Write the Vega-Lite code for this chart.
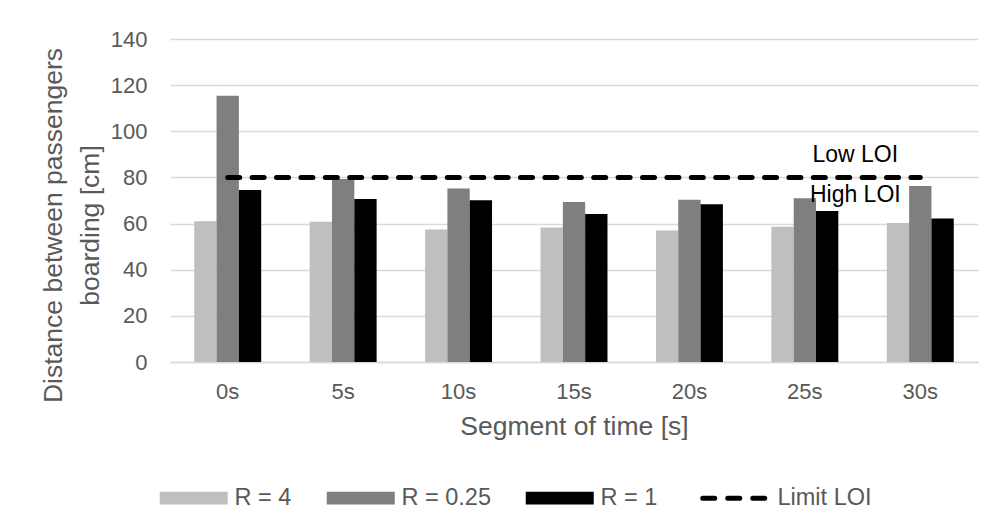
{
  "$schema": "https://vega.github.io/schema/vega-lite/v6.json",
  "autosize": "none",
  "width": 808,
  "height": 323,
  "padding": {"left": 170, "top": 39, "right": 17, "bottom": 168},
  "background": "#ffffff",
  "config": {
    "font": "Liberation Sans",
    "view": {"stroke": null},
    "axis": {"labelColor": "#595959", "titleColor": "#595959", "titleFontWeight": "normal", "labelFont": "Liberation Sans", "titleFont": "Liberation Sans"}
  },
  "datasets": {
    "bars": [
      {"time": "0s", "series": "R = 4", "value": 61.0},
      {"time": "0s", "series": "R = 0.25", "value": 115.4},
      {"time": "0s", "series": "R = 1", "value": 74.6},
      {"time": "5s", "series": "R = 4", "value": 60.8},
      {"time": "5s", "series": "R = 0.25", "value": 79.3},
      {"time": "5s", "series": "R = 1", "value": 70.6},
      {"time": "10s", "series": "R = 4", "value": 57.4},
      {"time": "10s", "series": "R = 0.25", "value": 75.2},
      {"time": "10s", "series": "R = 1", "value": 70.1},
      {"time": "15s", "series": "R = 4", "value": 58.3},
      {"time": "15s", "series": "R = 0.25", "value": 69.3},
      {"time": "15s", "series": "R = 1", "value": 64.1},
      {"time": "20s", "series": "R = 4", "value": 57.0},
      {"time": "20s", "series": "R = 0.25", "value": 70.3},
      {"time": "20s", "series": "R = 1", "value": 68.4},
      {"time": "25s", "series": "R = 4", "value": 58.6},
      {"time": "25s", "series": "R = 0.25", "value": 71.0},
      {"time": "25s", "series": "R = 1", "value": 65.5},
      {"time": "30s", "series": "R = 4", "value": 60.3},
      {"time": "30s", "series": "R = 0.25", "value": 76.3},
      {"time": "30s", "series": "R = 1", "value": 62.2}
    ],
    "limit": [
      {"time": "0s", "series": "Limit LOI", "value": 80},
      {"time": "5s", "series": "Limit LOI", "value": 80},
      {"time": "10s", "series": "Limit LOI", "value": 80},
      {"time": "15s", "series": "Limit LOI", "value": 80},
      {"time": "20s", "series": "Limit LOI", "value": 80},
      {"time": "25s", "series": "Limit LOI", "value": 80},
      {"time": "30s", "series": "Limit LOI", "value": 80}
    ],
    "notes": [
      {"time": "30s", "value": 89.7, "label": "Low LOI"},
      {"time": "30s", "value": 72.3, "label": "High LOI"}
    ]
  },
  "encoding": {
    "x": {
      "field": "time", "type": "nominal",
      "sort": ["0s", "5s", "10s", "15s", "20s", "25s", "30s"],
      "scale": {"paddingInner": 0.42, "paddingOuter": 0.21},
      "axis": {
        "title": "Segment of time [s]", "titleFontSize": 26.5, "titlePadding": 11,
        "labelAngle": 0, "labelFontSize": 22, "labelPadding": 19,
        "ticks": false, "tickSize": 0, "grid": false,
        "domainColor": "#D9D9D9", "domainWidth": 1.5
      }
    },
    "y": {
      "field": "value", "type": "quantitative",
      "scale": {"domain": [0, 140], "nice": false},
      "axis": {
        "title": ["Distance between passengers", "boarding [cm]"],
        "titleFontSize": 26.5, "titleLineHeight": 37,
        "titleAngle": -90, "titleBaseline": "middle", "titleAlign": "center",
        "titleX": -117, "titleY": 186,
        "values": [0, 20, 40, 60, 80, 100, 120, 140],
        "labelFontSize": 22, "labelPadding": 23,
        "ticks": false, "tickSize": 0, "domain": false,
        "gridColor": "#D9D9D9", "gridWidth": 1.5
      }
    }
  },
  "layer": [
    {
      "data": {"name": "bars"},
      "mark": {"type": "bar"},
      "encoding": {
        "xOffset": {"field": "series", "type": "nominal", "sort": ["R = 4", "R = 0.25", "R = 1"], "scale": {"paddingInner": 0, "paddingOuter": 0}},
        "color": {
          "field": "series", "type": "nominal",
          "scale": {"domain": ["R = 4", "R = 0.25", "R = 1", "Limit LOI"], "range": ["#BFBFBF", "#7F7F7F", "#000000", "#000000"]},
          "legend": {
            "orient": "none", "legendX": 12, "legendY": 447, "direction": "horizontal",
            "title": null,
            "symbolType": "M-1,-0.19H1V0.19H-1Z", "symbolSize": 4624,
            "labelFontSize": 23.5, "labelColor": "#595959", "labelOffset": 29, "labelLimit": 300,
            "columnPadding": 34,
            "encode": {
              "symbols": {
                "update": {
                  "shape": {"signal": "datum.label === 'Limit LOI' ? 'stroke' : 'M-1,-0.19H1V0.19H-1Z'"},
                  "fill": {"signal": "datum.label === 'Limit LOI' ? 'transparent' : (datum.label === 'R = 4' ? '#BFBFBF' : (datum.label === 'R = 0.25' ? '#7F7F7F' : '#000000'))"},
                  "stroke": {"signal": "datum.label === 'Limit LOI' ? '#000000' : 'transparent'"},
                  "strokeWidth": {"signal": "datum.label === 'Limit LOI' ? 5 : 0"},
                  "strokeDash": {"signal": "datum.label === 'Limit LOI' ? [12, 13] : [1, 0]"},
                  "strokeCap": {"value": "round"},
                  "opacity": {"value": 1}
                }
              }
            }
          }
        }
      }
    },
    {
      "data": {"name": "limit"},
      "mark": {"type": "line", "strokeWidth": 5, "strokeDash": [12, 12.4], "strokeCap": "round"},
      "encoding": {
        "color": {"field": "series", "type": "nominal"}
      }
    },
    {
      "data": {"name": "notes"},
      "mark": {"type": "text", "fontSize": 23, "color": "#000000", "dx": -65, "baseline": "middle", "align": "center"},
      "encoding": {
        "text": {"field": "label"}
      }
    }
  ]
}
